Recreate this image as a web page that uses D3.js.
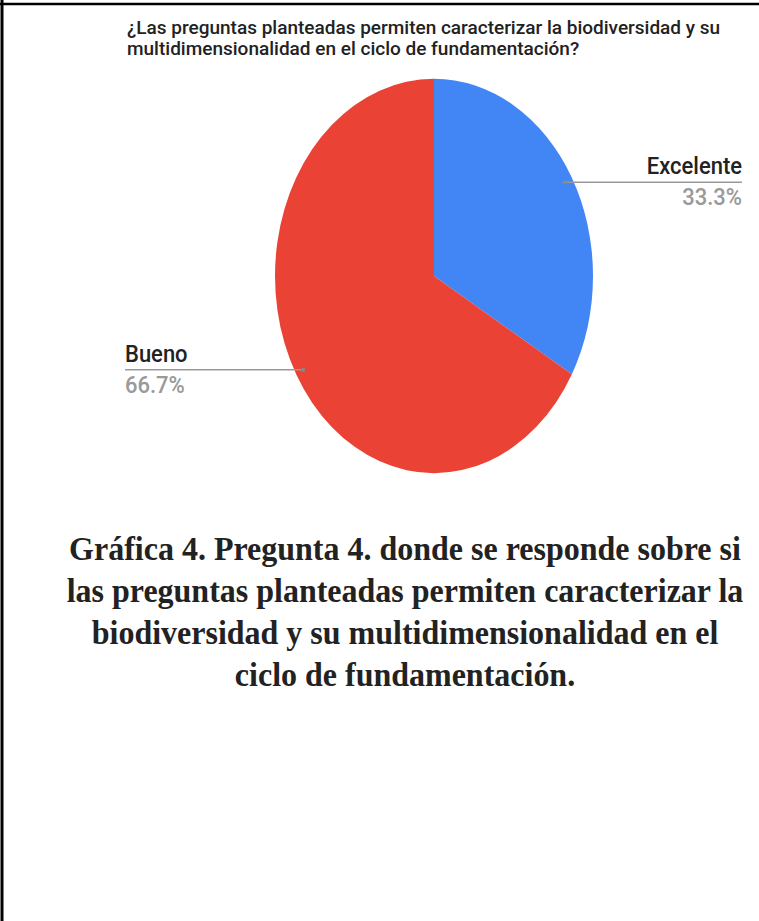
<!DOCTYPE html>
<html>
<head>
<meta charset="utf-8">
<script src="https://cdn.jsdelivr.net/npm/d3@7"></script>
<style>
  body { margin: 0; background: #fff; }
  svg { display: block; }
</style>
</head>
<body>
<svg id="chart"></svg>
<script>
const width = 759;
const height = 921;

// data
const categories = ["Excelente", "Bueno"];
const values = [33.3, 66.7];
const percentLabels = ["33.3%", "66.7%"];
const colors = ["#4285f4", "#ea4335"];
const titleLines = [
  "¿Las preguntas planteadas permiten caracterizar la biodiversidad y su",
  "multidimensionalidad en el ciclo de fundamentación?"
];
const captionLines = [
  "Gráfica 4. Pregunta 4. donde se responde sobre si",
  "las preguntas planteadas permiten caracterizar la",
  "biodiversidad y su multidimensionalidad en el",
  "ciclo de fundamentación."
];

// the picture is stretched vertically
const stretch = 1.24;
const cx = 434, cy = 276;
const rx = 159;

const svg = d3.select("#chart")
  .attr("width", width)
  .attr("height", height);

/* frame */
svg.append("line")
  .attr("x1", 0).attr("x2", width)
  .attr("y1", 4).attr("y2", 4)
  .attr("stroke", "#000").attr("stroke-width", 2.5);
svg.append("line")
  .attr("x1", 2).attr("x2", 2)
  .attr("y1", 0).attr("y2", height)
  .attr("stroke", "#000").attr("stroke-width", 3);

/* title */
titleLines.forEach((t, i) => {
  svg.append("text")
    .attr("transform", `translate(127,${34 + i * 21})`)
    .attr("font-family", "Roboto, Arial, sans-serif")
    .attr("font-weight", 500)
    .attr("font-size", 19)
    .attr("fill", "#222")
    .text(t);
});

/* pie */
const pie = d3.pie().sort(null).value(d => d);
const arcs = pie(values);
const arc = d3.arc().innerRadius(0).outerRadius(rx);
const dotArc = d3.arc().innerRadius(rx * 0.95).outerRadius(rx * 0.95);

const g = svg.append("g")
  .attr("transform", `translate(${cx},${cy}) scale(1,${stretch})`);

g.selectAll("path")
  .data(arcs)
  .enter()
  .append("path")
  .attr("d", arc)
  .attr("fill", (d, i) => colors[i]);

/* labels */
const labelEnds = [742, 125];

arcs.forEach((d, i) => {
  const c = dotArc.centroid(d);
  const px = cx + c[0];
  const py = cy + c[1] * stretch;
  const right = px > cx;
  const endX = labelEnds[i];

  svg.append("line")
    .attr("x1", px).attr("x2", endX)
    .attr("y1", py).attr("y2", py)
    .attr("stroke", "#999").attr("stroke-width", 1.5);
  svg.append("circle")
    .attr("cx", px).attr("cy", py).attr("r", 2)
    .attr("fill", "#888");

  svg.append("text")
    .attr("transform", `translate(${endX},${py - 8}) scale(1,1.1)`)
    .attr("text-anchor", right ? "end" : "start")
    .attr("font-family", "Roboto, Arial, sans-serif")
    .attr("font-weight", 500)
    .attr("font-size", 22)
    .attr("fill", "#222")
    .text(categories[i]);

  svg.append("text")
    .attr("transform", `translate(${endX},${py + 23}) scale(1,1.1)`)
    .attr("text-anchor", right ? "end" : "start")
    .attr("font-family", "Roboto, Arial, sans-serif")
    .attr("font-weight", 500)
    .attr("font-size", 22)
    .attr("fill", "#999")
    .text(percentLabels[i]);
});

/* caption */
captionLines.forEach((t, i) => {
  svg.append("text")
    .attr("transform", `translate(405,${560 + i * 42}) scale(1,1.05)`)
    .attr("text-anchor", "middle")
    .attr("font-family", "'Liberation Serif', 'Times New Roman', serif")
    .attr("font-weight", "bold")
    .attr("font-size", 32)
    .attr("fill", "#222")
    .text(t);
});
</script>
</body>
</html>
